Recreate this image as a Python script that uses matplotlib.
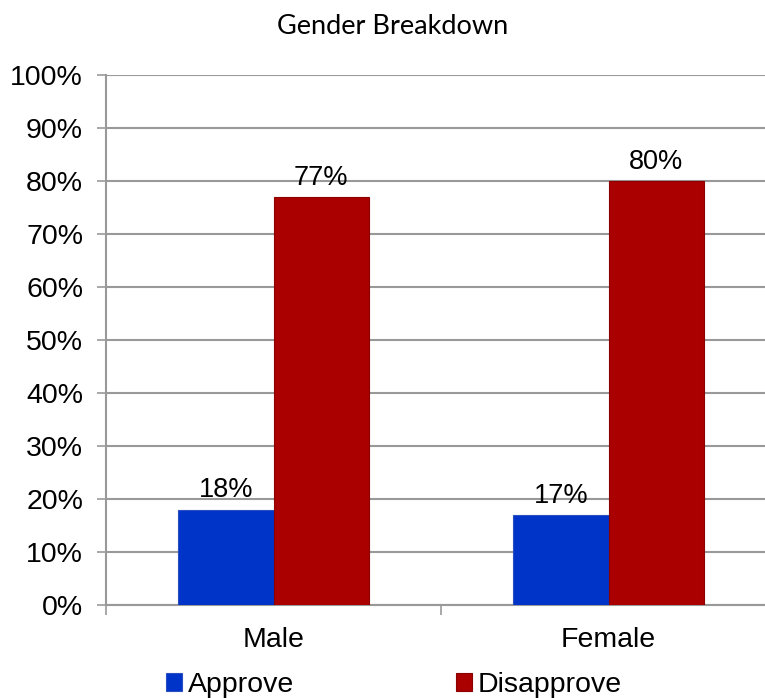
import matplotlib.pyplot as plt
import numpy as np

categories = ["Male", "Female"]
approve = [18, 17]
disapprove = [77, 80]
series_names = ["Approve", "Disapprove"]
yticks = [0, 10, 20, 30, 40, 50, 60, 70, 80, 90, 100]

blue = "#0033c8"
red = "#aa0000"
gray = "#999999"

fig = plt.figure(figsize=(7.65, 6.98), dpi=100)
ax = fig.add_axes([106 / 765, 93 / 698, 670 / 765, 530 / 698])

x = np.arange(len(categories))
w = 0.284
b1 = ax.bar(x - w / 2, approve, w, color=blue, edgecolor="#2a4fc0", linewidth=0.8,
            label=series_names[0], zorder=3)
b2 = ax.bar(x + w / 2, disapprove, w, color=red, edgecolor="#8c0000", linewidth=0.8,
            label=series_names[1], zorder=3)

for bars, vals in ((b1, approve), (b2, disapprove)):
    for r, v in zip(bars, vals):
        ax.text(r.get_x() + r.get_width() / 2, v + 1.2, f"{v}%", ha="center", va="bottom",
                fontsize=19.5, family="Liberation Sans", zorder=4)

ax.set_xlim(-0.5, 1.5)
ax.set_ylim(0, 100)
ax.set_yticks(yticks)
ax.set_yticklabels([f"{t}%" for t in yticks], fontsize=20.5, family="Liberation Sans")
ax.set_xticks(x)
ax.set_xticklabels(categories, fontsize=20.5, family="Liberation Sans")
ax.tick_params(axis="x", length=0, pad=16)
ax.set_xticks([-0.5, 0.5, 1.5], minor=True)
ax.tick_params(axis="x", which="minor", length=7, color=gray, width=1.2)
ax.tick_params(axis="y", length=6.5, color=gray, width=1.2, pad=10)
ax.yaxis.grid(True, color=gray, linewidth=1.5, zorder=0)
ax.set_axisbelow(True)
for s in ("top", "right"):
    ax.spines[s].set_visible(False)
for s in ("left", "bottom"):
    ax.spines[s].set_color(gray)
    ax.spines[s].set_linewidth(1.5)

fig.text(393 / 765, 1 - 26 / 698, "Gender Breakdown", ha="center", va="center",
         fontsize=19.5, family="Lato")

fig.legend(handles=[b1, b2], loc="center", bbox_to_anchor=(394 / 765, 1 - 685 / 698),
           ncol=2, frameon=False, prop={"family": "Liberation Sans", "size": 20.5},
           handlelength=0.55, handleheight=0.55, handletextpad=0.2, columnspacing=5.7,
           borderpad=0)

fig.savefig("out.png", dpi=100)
